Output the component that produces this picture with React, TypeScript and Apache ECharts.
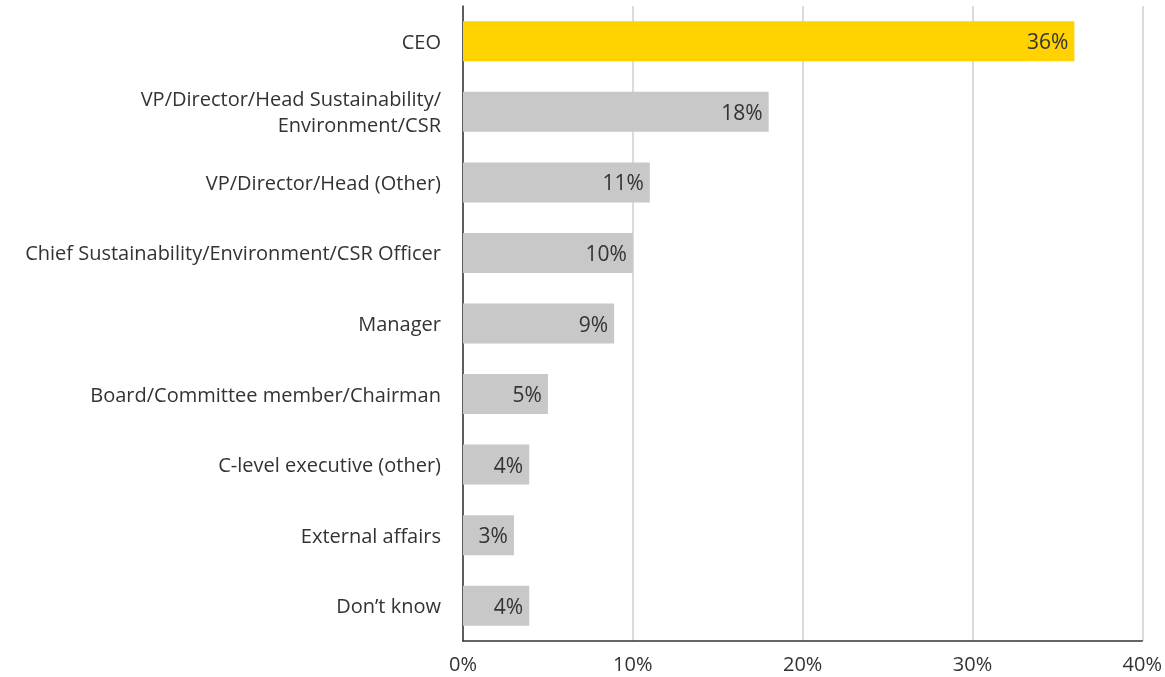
import React, { useEffect, useRef } from "react";
import * as echarts from "echarts";

const categories = [
  "CEO",
  "VP/Director/Head Sustainability/\nEnvironment/CSR",
  "VP/Director/Head (Other)",
  "Chief Sustainability/Environment/CSR Officer",
  "Manager",
  "Board/Committee member/Chairman",
  "C-level executive (other)",
  "External affairs",
  "Don’t know",
];
const values = [36, 18, 11, 10, 8.9, 5, 3.9, 3, 3.9];
const labels = ["36%", "18%", "11%", "10%", "9%", "5%", "4%", "3%", "4%"];
const xTicks = [0, 10, 20, 30, 40];

const FONT = "Open Sans";

export default function App() {
  const ref = useRef<HTMLDivElement>(null);
  useEffect(() => {
    if (!ref.current) return;
    const chart = echarts.init(ref.current, undefined, { renderer: "svg" });
    chart.setOption({
      animation: false,
      grid: { left: 463, right: 18, top: 6, bottom: 36, containLabel: false },
      xAxis: {
        type: "value",
        min: xTicks[0],
        max: xTicks[xTicks.length - 1],
        interval: 10,
        axisLine: { show: true, lineStyle: { color: "#333", width: 1.5 } },
        axisTick: { show: false },
        splitLine: { show: true, lineStyle: { color: "#cfcfcf", width: 1.5 } },
        axisLabel: {
          formatter: (v: number) => `${v}%`,
          color: "#333",
          fontSize: 20,
          fontFamily: FONT,
          margin: 12,
        },
      },
      yAxis: {
        type: "category",
        inverse: true,
        data: categories,
        axisLine: { show: true, lineStyle: { color: "#333", width: 1.5 } },
        axisTick: { show: false },
        axisLabel: {
          color: "#333",
          fontSize: 20,
          fontFamily: FONT,
          margin: 22,
          align: "right",
          lineHeight: 26,
        },
      },
      series: [
        {
          type: "bar",
          barWidth: 40,
          data: values.map((v, i) => ({
            value: v,
            itemStyle: { color: i === 0 ? "#FFD200" : "#C8C8C9" },
          })),
          label: {
            show: true,
            position: "insideRight",
            distance: 6,
            formatter: (p: any) => labels[p.dataIndex],
            color: "#333",
            fontSize: 21,
            fontFamily: FONT,
          },
        },
      ],
    });
    return () => chart.dispose();
  }, []);
  return (
    <div
      ref={ref}
      style={{ position: "fixed", left: 0, top: 0, width: 1165, height: 677 }}
    />
  );
}
